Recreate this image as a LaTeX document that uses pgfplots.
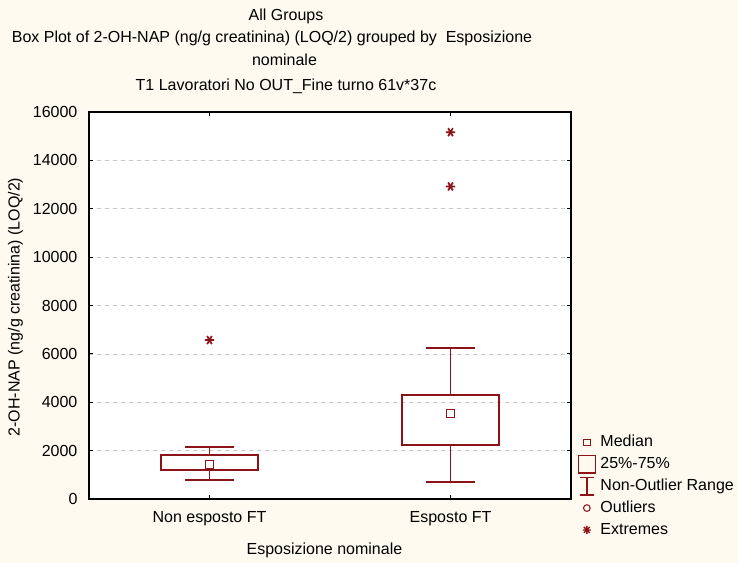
\documentclass[border=0pt]{standalone}
\usepackage{pgfplots}
\pgfplotsset{compat=1.18}
\usepackage{fontspec}
\setmainfont{Liberation Sans}

\definecolor{boxred}{RGB}{140,20,25}
\definecolor{cream}{RGB}{254,250,240}
\newcommand\chartfont{\fontsize{12}{14}\selectfont}

\begin{document}
\begin{tikzpicture}
% page background (738x563 px at 0.75pt/px)
\fill[cream] (-66.75pt,-48pt) rectangle (486.75pt,374.25pt);

\begin{axis}[
    at={(0pt,0pt)}, anchor=south west,
    scale only axis, width=361.5pt, height=290.25pt,
    axis background/.style={fill=white},
    xmin=0.5, xmax=2.5, ymin=0, ymax=16000,
    xtick={1,2}, xticklabels={Non esposto FT, Esposto FT},
    ytick={0,2000,...,16000},
    scaled y ticks=false,
    yticklabel={\pgfmathprintnumber[fixed, precision=0]{\tick}},
    tick pos=both, tick align=inside,
    major tick length=3pt,
    tick style={black, line width=0.9pt},
    axis line style={line width=1.1pt},
    ymajorgrids,
    grid style={dashed, gray!45, line width=0.5pt},
    /pgf/number format/1000 sep={},
    /pgf/number format/assume math mode=true,
    every tick label/.append style={font=\chartfont},
    xticklabel style={anchor=center, yshift=-15pt},
    yticklabel style={anchor=east, inner sep=0pt, xshift=-8.5pt},
    xlabel={Esposizione nominale},
    ylabel={2-OH-NAP (ng/g creatinina) (LOQ/2)},
    label style={font=\chartfont},
    xlabel style={at={(axis description cs:0.4885,0)}, anchor=base, yshift=-41.8pt},
    ylabel style={at={(axis description cs:-0.1438,0.496)}, anchor=base},
    unbounded coords=jump,
    legend cell align=left,
    legend style={at={(1.0124,0.175)}, anchor=north west, draw=none, fill=none,
                  font=\chartfont, row sep=0pt, inner sep=0pt,
                  nodes={inner sep=1pt, text height=9pt, text depth=2.5pt}},
]
% Non esposto FT: box 25%-75%, whiskers = non-outlier range
\addplot[boxred, line width=1.4pt, line join=miter, forget plot]
    coordinates {(1,1208) (1.2,1208) (1.2,1827) (0.8,1827) (0.8,1208) (1,1208)};
\addplot[boxred, line width=1.4pt, forget plot]
    coordinates {(1,1827) (1,2157) (0.9,nan) (0.9,2157) (1.1,2157) (1.1,nan)
                 (1,1208) (1,771) (0.9,nan) (0.9,771) (1.1,771)};
% Esposto FT
\addplot[boxred, line width=1.4pt, line join=miter, forget plot]
    coordinates {(2,2227) (2.2,2227) (2.2,4301) (1.8,4301) (1.8,2227) (2,2227)};
\addplot[boxred, line width=1.4pt, forget plot]
    coordinates {(2,4301) (2,6227) (1.9,nan) (1.9,6227) (2.1,6227) (2.1,nan)
                 (2,2227) (2,701) (1.9,nan) (1.9,701) (2.1,701)};

% medians
\addplot[only marks, mark=square, mark size=3pt, boxred,
    mark options={line width=0.8pt}, forget plot]
    coordinates {(1,1415) (2,3518)};

% extremes
\addplot[only marks, mark=asterisk, mark size=3.5pt, boxred,
    mark options={line width=1.3pt, rotate=90}, forget plot]
    coordinates {(1,6570) (2,15164) (2,12921)};

\addlegendimage{legend image code/.code={
    \draw[boxred, line width=0.8pt] (4.5pt,-2.5pt) rectangle (9.5pt,2.5pt);
    \path (0pt,-8pt) (16pt,8pt);}}
\addlegendimage{legend image code/.code={
    \draw[boxred, line width=1.2pt] (0.6pt,-6.5pt) rectangle (13.4pt,6.5pt);
    \path (0pt,-8pt) (16pt,8pt);}}
\addlegendimage{legend image code/.code={
    \draw[boxred, line width=1.2pt] (2pt,6.5pt) -- (12pt,6.5pt)
        (7pt,6.5pt) -- (7pt,-6.5pt) (2pt,-6.5pt) -- (12pt,-6.5pt);
    \path (0pt,-8pt) (16pt,8pt);}}
\addlegendimage{legend image code/.code={
    \draw[boxred, line width=0.8pt] (7pt,0pt) circle (2.5pt);
    \path (0pt,-8pt) (16pt,8pt);}}
\addlegendimage{legend image code/.code={
    \draw[boxred, line width=1pt] (7pt,-3pt) -- (7pt,3pt)
        (4pt,0pt) -- (10pt,0pt) (4.8pt,-2.2pt) -- (9.2pt,2.2pt)
        (4.8pt,2.2pt) -- (9.2pt,-2.2pt);
    \path (0pt,-8pt) (16pt,8pt);}}
\legend{Median, 25\%-75\%, Non-Outlier Range, Outliers, Extremes}
\end{axis}

% titles
\node[font=\chartfont, anchor=base] at (147.75pt,358.7pt) {All Groups};
\node[font=\chartfont, anchor=base] at (137.25pt,342.2pt)
    {Box Plot of 2-OH-NAP (ng/g creatinina) (LOQ/2) grouped by\ \ Esposizione};
\node[font=\chartfont, anchor=base] at (146.6pt,325pt) {nominale};
\node[font=\chartfont, anchor=base] at (147.75pt,306.2pt)
    {T1 Lavoratori No OUT\_Fine turno 61v*37c};
\end{tikzpicture}
\end{document}
